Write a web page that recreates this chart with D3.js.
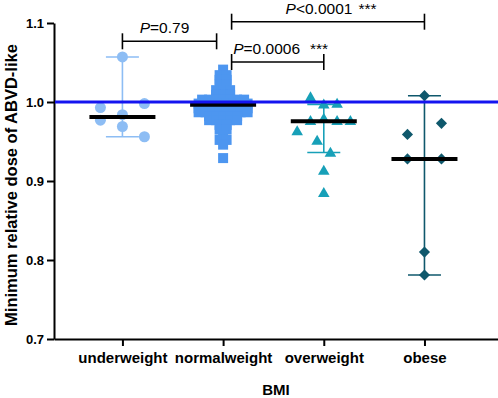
<!DOCTYPE html>
<html>
<head>
<meta charset="utf-8">
<script src="https://cdn.jsdelivr.net/npm/d3@7"></script>
<style>
  html, body { margin: 0; padding: 0; background: #ffffff; }
  svg { display: block; font-family: "Liberation Sans", Arial, sans-serif; }
</style>
</head>
<body>
<svg id="chart" width="498" height="398"></svg>
<script>
// ---------------- data ----------------
const categories = ["underweight", "normalweight", "overweight", "obese"];
const underweight = [1.057, 0.993, 0.984, 0.998, 0.977, 0.969, 0.956];
const normalweight = [
  1.041,
  1.034, 1.034,
  1.028, 1.028,
  1.022, 1.022,
  1.015, 1.015, 1.015,
  1.009, 1.009, 1.009,
  1.003, 1.003, 1.003, 1.003, 1.003, 1.003, 1.003,
  0.998, 0.998, 0.998, 0.998, 0.998, 0.998, 0.998, 0.998,
  0.992, 0.992, 0.992, 0.992, 0.992, 0.992, 0.992, 0.992,
  0.987, 0.987, 0.987, 0.987, 0.987, 0.987, 0.987, 0.987,
  0.982, 0.982, 0.982, 0.982, 0.982,
  0.977, 0.977, 0.977, 0.977, 0.977,
  0.971, 0.971,
  0.965, 0.965,
  0.958,
  0.952, 0.952,
  0.946,
  0.929
];
const overweight = [1.005, 0.996, 0.997, 0.962, 0.975, 0.978, 0.975, 0.975, 0.950, 0.935, 0.912, 0.884];
const obese = [1.008, 0.959, 0.973, 0.928, 0.928, 0.810, 0.781];
const medians = [0.981, 0.9966, 0.9755, 0.928];
const ciLow = [0.956, 0.993, 0.936, 0.781];
const ciHigh = [1.057, 0.999, 0.997, 1.008];
const yTicks = [0.7, 0.8, 0.9, 1.0, 1.1];
const referenceValue = 1.0;
const comparisons = [
  { from: "underweight", to: "normalweight", op: "=", p: "0.79", stars: "" },
  { from: "normalweight", to: "overweight", op: "=", p: "0.0006", stars: "***" },
  { from: "normalweight", to: "obese", op: "<", p: "0.0001", stars: "***" }
];

// ---------------- styles ----------------
const groups = [underweight, normalweight, overweight, obese];
const colors = ["#8dbdf4", "#4d96f0", "#17a0b8", "#0f586c"];
const shapes = ["circle", "square", "triangle", "diamond"];
const stepX = [22, 7, 13.3, 34];          // horizontal spread step
const binMode = ["coarse", "exact", "coarse", "coarse"];

const W = 498, H = 398;
const plot = { left: 54, right: 498, top: 23, bottom: 339 };

const svg = d3.select("#chart");

const y = d3.scaleLinear().domain([0.7, 1.1]).range([plot.bottom, plot.top]);
const x = d3.scalePoint().domain(categories).range([plot.left, plot.right]).padding(0.705).align(0.482);

// ---------------- layout of points (scatter spread) ----------------
function spread(values, gi) {
  const bins = new Map();
  values.forEach((v, i) => {
    const key = binMode[gi] === "exact" ? Math.round(v * 1000) : Math.floor((v - 0.7) / 0.028 + 1e-9);
    if (!bins.has(key)) bins.set(key, []);
    bins.get(key).push(i);
  });
  const out = [];
  bins.forEach(idx => {
    const k = idx.length;
    idx.forEach((i, j) => {
      out.push({ v: values[i], dx: (j - (k - 1) / 2) * stepX[gi] });
    });
  });
  return out;
}

// ---------------- axes ----------------
const yAxis = d3.axisLeft(y).tickValues(yTicks).tickFormat(d3.format(".1f")).tickSize(7).tickSizeOuter(0).tickPadding(3);
const gy = svg.append("g").attr("transform", `translate(${plot.left},0)`).call(yAxis);
gy.selectAll("path, line").attr("stroke", "#000").attr("stroke-width", 2);
gy.selectAll("text").attr("fill", "#000").style("font-size", "13px").style("font-weight", "bold");

const xAxis = d3.axisBottom(x).tickSize(7).tickSizeOuter(0);
const gx = svg.append("g").attr("transform", `translate(0,${plot.bottom})`).call(xAxis);
gx.selectAll("path, line").attr("stroke", "#000").attr("stroke-width", 2);
gx.selectAll("text").attr("fill", "#000").attr("y", 24).attr("dy", 0)
  .style("font-size", "15px").style("font-weight", "bold");

svg.append("text")
  .attr("x", (plot.left + plot.right) / 2).attr("y", 395)
  .attr("text-anchor", "middle")
  .style("font-size", "15px").style("font-weight", "bold")
  .text("BMI");

svg.append("text")
  .attr("transform", `translate(16.5,${(plot.top + plot.bottom) / 2 + 4}) rotate(-90)`)
  .attr("text-anchor", "middle")
  .style("font-size", "16.5px").style("font-weight", "bold")
  .text("Minimum relative dose of ABVD-like");

// ---------------- error bars ----------------
const eb = svg.append("g");
categories.forEach((c, gi) => {
  const cx = x(c);
  eb.append("line").attr("x1", cx).attr("x2", cx).attr("y1", y(ciLow[gi])).attr("y2", y(ciHigh[gi]))
    .attr("stroke", colors[gi]).attr("stroke-width", 1.6);
  [ciLow[gi], ciHigh[gi]].forEach(v => {
    eb.append("line").attr("x1", cx - 16.5).attr("x2", cx + 16.5).attr("y1", y(v)).attr("y2", y(v))
      .attr("stroke", colors[gi]).attr("stroke-width", 1.6);
  });
});

// ---------------- points ----------------
const symbolOf = {
  circle: d3.symbol().type(d3.symbolCircle).size(95),
  square: d3.symbol().type(d3.symbolSquare).size(100),
  triangle: d3.symbol().type(d3.symbolTriangle).size(58),
  diamond: d3.symbol().type(d3.symbolSquare).size(62)
};
const pts = svg.append("g");
categories.forEach((c, gi) => {
  const data = spread(groups[gi], gi);
  pts.selectAll(null).data(data).enter().append("path")
    .attr("d", symbolOf[shapes[gi]]())
    .attr("transform", d => `translate(${x(c) + d.dx},${y(d.v)})` + (shapes[gi] === "diamond" ? " rotate(45)" : ""))
    .attr("fill", colors[gi]);
});

// ---------------- medians ----------------
const med = svg.append("g");
categories.forEach((c, gi) => {
  med.append("line").attr("x1", x(c) - 33).attr("x2", x(c) + 33)
    .attr("y1", y(medians[gi])).attr("y2", y(medians[gi]))
    .attr("stroke", "#000").attr("stroke-width", 4);
});

// ---------------- reference line ----------------
svg.append("line")
  .attr("x1", plot.left + 1).attr("x2", plot.right)
  .attr("y1", y(referenceValue)).attr("y2", y(referenceValue))
  .attr("stroke", "#1414f0").attr("stroke-width", 3);

// ---------------- comparison brackets ----------------
const bracketY = [41.3, 62, 21.7];
const textY = [33.3, 54.3, 14];
const endInset = { normalweight: 7 };
const br = svg.append("g");
comparisons.forEach((cmp, i) => {
  let x1 = x(cmp.from), x2 = x(cmp.to);
  if (cmp.from === "normalweight") x1 += 8.5;
  if (cmp.to === "normalweight") x2 -= 6.5;
  const by = bracketY[i];
  br.append("line").attr("x1", x1).attr("x2", x2).attr("y1", by).attr("y2", by).attr("stroke", "#000").attr("stroke-width", 1.6);
  [x1, x2].forEach(xx => {
    br.append("line").attr("x1", xx).attr("x2", xx).attr("y1", by - 8).attr("y2", by + 8).attr("stroke", "#000").attr("stroke-width", 1.6);
  });
  const t = br.append("text").attr("x", (x1 + x2) / 2 + (cmp.stars ? 3 : -5)).attr("y", textY[i])
    .attr("text-anchor", "middle").style("font-size", "15.5px").attr("fill", "#000");
  t.append("tspan").style("font-style", "italic").text("P");
  t.append("tspan").text(cmp.op + cmp.p);
  if (cmp.stars) t.append("tspan").attr("dx", i === 1 ? 10 : 6).text(cmp.stars);
});
</script>
</body>
</html>
